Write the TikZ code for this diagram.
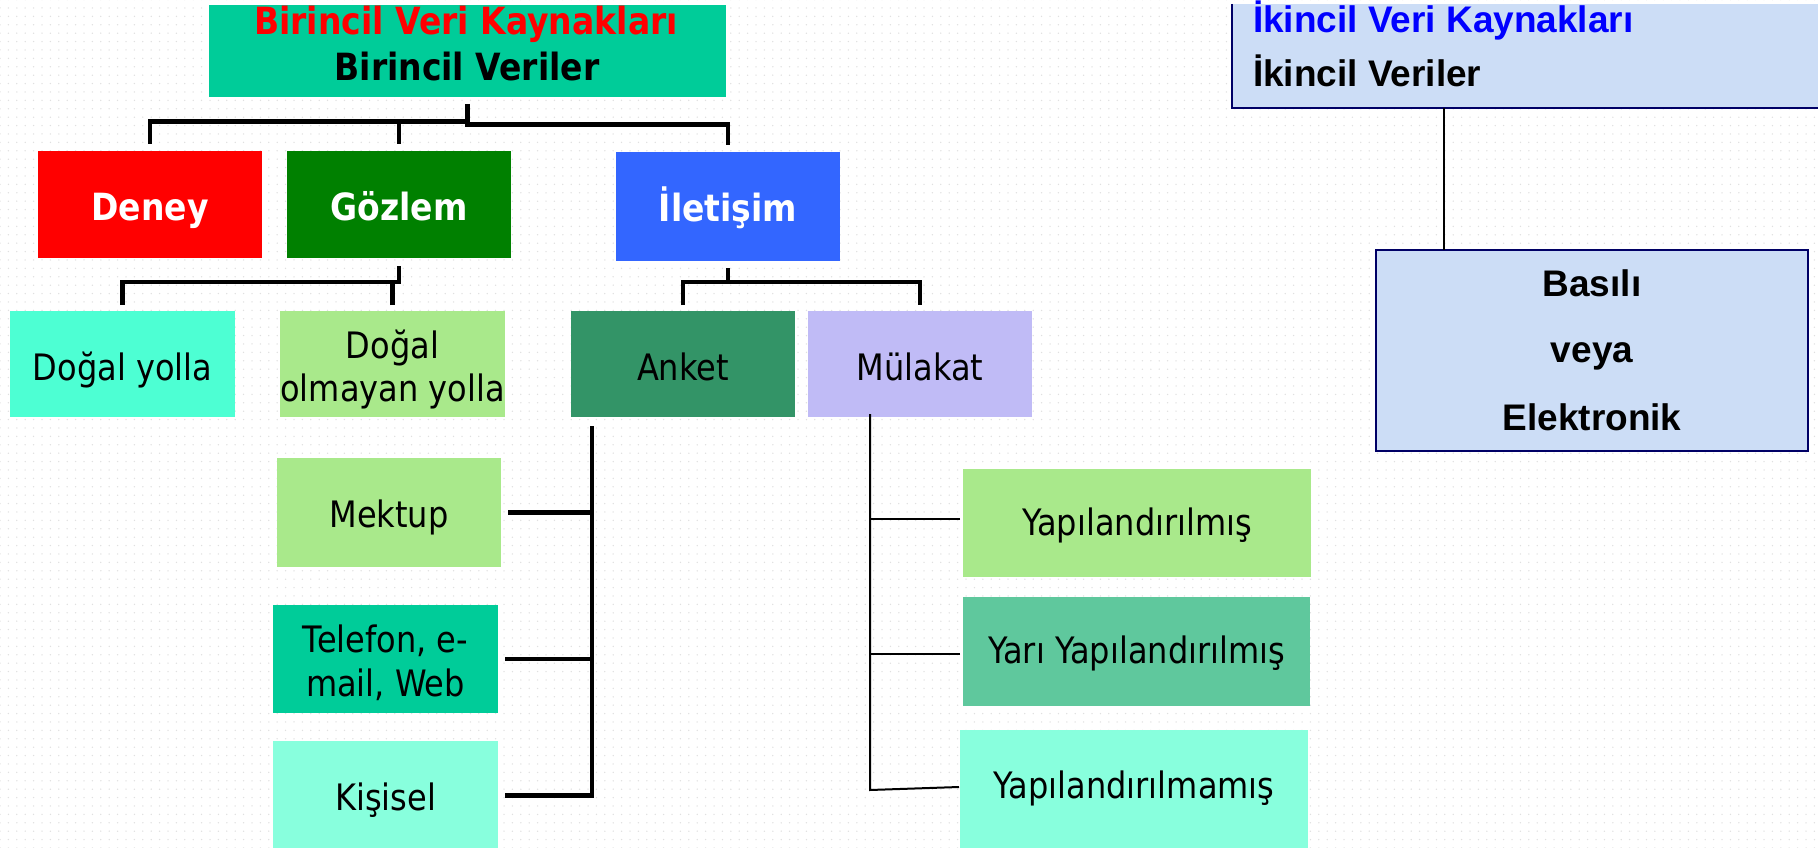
\documentclass[tikz,border=0pt]{standalone}
\usepackage{fontspec}
\setmainfont{DejaVu Sans}[FakeStretch=0.88]
\newfontfamily\arialf{Liberation Sans}
\usetikzlibrary{calc,patterns}
\pgfdeclarepatternformonly{bgdots}{\pgfqpoint{-1pt}{-1pt}}{\pgfqpoint{1pt}{1pt}}{\pgfqpoint{8.4pt}{8.4pt}}{\pgfpathcircle{\pgfqpoint{0pt}{0pt}}{0.75pt}\pgfusepath{fill}}
\definecolor{cTeal}{HTML}{00CC99}
\definecolor{cRed}{HTML}{FF0000}
\definecolor{cGreen}{HTML}{008000}
\definecolor{cBlue}{HTML}{3366FF}
\definecolor{cAqua}{HTML}{4DFFD3}
\definecolor{cLight}{HTML}{A9E98B}
\definecolor{cAnket}{HTML}{339467}
\definecolor{cLav}{HTML}{C0BBF6}
\definecolor{cMint}{HTML}{88FFDD}
\definecolor{cYari}{HTML}{5FC89D}
\definecolor{cLB}{HTML}{CCDDF6}
\definecolor{cNavy}{HTML}{000066}
\definecolor{cTxtBlue}{HTML}{0000FF}
\definecolor{cDot}{HTML}{E0E0E0}
\begin{document}
\begin{tikzpicture}[x=1pt,y=-1pt,
  box/.style={rectangle, inner sep=0pt, outer sep=0pt, draw=none},
  conn/.style={line width=4.5pt, black, line join=miter},
  thinconn/.style={line width=2pt, black},
  rline/.style={line width=2.2pt, black},
  txt/.style={anchor=base, inner sep=0pt, outer sep=0pt, font=\fontsize{36.4}{42}\selectfont},
  btxt/.style={txt, font=\bfseries\fontsize{37.5}{44}\selectfont},
  atxt/.style={anchor=base, inner sep=0pt, outer sep=0pt, font=\arialf\bfseries\fontsize{37}{44}\selectfont}]
\useasboundingbox (0,0) rectangle (1818,848);
\fill[white] (0,0) rectangle (1818,848);
\fill[pattern=bgdots, pattern color=cDot] (0,0) rectangle (1818,848);
\begin{scope}
\clip (0,0) rectangle (1818,848);
% boxes
\node[box, fill=cTeal, minimum width=517pt, minimum height=92pt] (top) at (467.5,51) {};
\node[box, fill=cRed, minimum width=224pt, minimum height=107pt] (deney) at (150,204.5) {};
\node[box, fill=cGreen, minimum width=224pt, minimum height=107pt] (gozlem) at (399,204.5) {};
\node[box, fill=cBlue, minimum width=224pt, minimum height=109pt] (iletisim) at (728,206.5) {};
\node[box, fill=cAqua, minimum width=225pt, minimum height=106pt] (dogal) at (122.5,364) {};
\node[box, fill=cLight, minimum width=225pt, minimum height=106pt] (olm) at (392.5,364) {};
\node[box, fill=cAnket, minimum width=224pt, minimum height=106pt] (anket) at (683,364) {};
\node[box, fill=cLav, minimum width=224pt, minimum height=106pt] (mulakat) at (920,364) {};
\node[box, fill=cLight, minimum width=224pt, minimum height=109pt] (mektup) at (389,512.5) {};
\node[box, fill=cTeal, minimum width=225pt, minimum height=108pt] (telefon) at (385.5,659) {};
\node[box, fill=cMint, minimum width=225pt, minimum height=109pt] (kisisel) at (385.5,795.5) {};
\node[box, fill=cLight, minimum width=348pt, minimum height=108pt] (yap) at (1137,523) {};
\node[box, fill=cYari, minimum width=347pt, minimum height=109pt] (yari) at (1136.5,651.5) {};
\node[box, fill=cMint, minimum width=348pt, minimum height=120pt] (yapm) at (1134,790) {};
\node[box, fill=cLB, minimum width=598pt, minimum height=104pt] (ikincil) at (1531,56) {};
\draw[line width=2.5pt, cNavy] (ikincil.north west) -- (ikincil.south west) -- (ikincil.south east);
\node[box, fill=cLB, draw=cNavy, line width=2.5pt, minimum width=432pt, minimum height=201pt] (basili) at (1592,350.5) {};
% connectors: Birincil
\draw[conn] ([yshift=-7pt]top.south) -- ++(0,20.5) -| ([yshift=7pt]iletisim.north);
\draw[conn] ([yshift=7pt]deney.north) |- ($(top.south)+(0,24.5)$);
\draw[conn] ([yshift=7pt]gozlem.north) -- ++(0,-23);
% Gozlem
\draw[conn] ([yshift=-8pt]gozlem.south) -- ++(0,16) -| ([yshift=6pt]dogal.north);
\draw[conn] ([yshift=6pt]olm.north) -- ++(0,-23);
% Iletisim
\draw[conn] ([yshift=-7pt]iletisim.south) -- ++(0,14) coordinate (ij);
\draw[conn] ([yshift=6pt]anket.north) |- (ij) -| ([yshift=6pt]mulakat.north);
% Anket bracket
\coordinate (av) at ([xshift=21pt,yshift=-9pt]anket.south west);
\draw[conn] (av) |- ([xshift=7pt]kisisel.east);
\draw[conn] ([xshift=7pt]mektup.east) -- (av |- mektup.east);
\draw[conn] ([xshift=7pt]telefon.east) -- (av |- telefon.east);
% Mulakat bracket
\coordinate (mv) at ([xshift=62pt,yshift=3pt]mulakat.south west);
\draw[thinconn] (mv) -- (mv |- yapm.west) -- ([xshift=-1pt,yshift=3pt]yapm.west);
\draw[thinconn] ([xshift=-3pt,yshift=4.5pt]yap.west) -- ++(-90,0);
\draw[thinconn] ([xshift=-3pt,yshift=-2.5pt]yari.west) -- ++(-90,0);
% right
\coordinate (rb) at ([xshift=68pt]basili.north west);
\draw[rline] (rb) -- (rb |- ikincil.south);
% texts
\node[btxt, text=cRed] (t1) at (466,35) {Birincil Veri Kaynakları};
\node[btxt] (t2) at (467,81) {Birincil Veriler};
\node[btxt, text=white] (tdeney) at (150,220) {Deney};
\node[btxt, text=white] (tgoz) at (399,220) {Gözlem};
\node[btxt, text=white] (tilet) at (728,221) {İletişim};
\node[txt] (tdogal) at (122.5,380) {Doğal yolla};
\node[txt] (tolm1) at (392.5,358) {Doğal};
\node[txt] (tolm2) at (392.5,401) {olmayan yolla};
\node[txt] (tanket) at (683,380) {Anket};
\node[txt] (tmul) at (920,380) {Mülakat};
\node[txt] (tmek) at (389,527) {Mektup};
\node[txt] (ttel1) at (385.5,652) {Telefon, e-};
\node[txt] (ttel2) at (385.5,696) {mail, Web};
\node[txt] (tkis) at (385.5,810) {Kişisel};
\node[txt] (tyap) at (1137,535) {Yapılandırılmış};
\node[txt] (tyari) at (1136.5,663) {Yarı Yapılandırılmış};
\node[txt] (tyapm) at (1134,798) {Yapılandırılmamış};
\node[atxt, anchor=base west, text=cTxtBlue] (tik1) at (1253,33) {İkincil Veri Kaynakları};
\node[atxt, anchor=base west] (tik2) at (1253,87) {İkincil Veriler};
\node[atxt] (tb1) at (1592,296) {Basılı};
\node[atxt] (tb2) at (1592,362) {veya};
\node[atxt] (tb3) at (1592,430) {Elektronik};
\end{scope}
\end{tikzpicture}
\end{document}
